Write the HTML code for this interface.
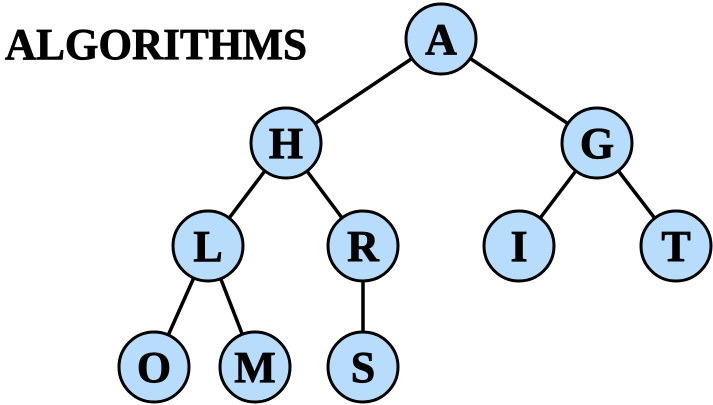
<!DOCTYPE html>
<html><head><style>html,body{margin:0;padding:0;background:#fff;}svg{display:block}</style></head>
<body>
<svg width="713" height="405" viewBox="0 0 713 405" xmlns="http://www.w3.org/2000/svg">
<text x="5" y="59" font-family="Liberation Serif, serif" font-weight="bold" font-size="44" textLength="302" lengthAdjust="spacingAndGlyphs" fill="#000" stroke="#000" stroke-width="0.8">ALGORITHMS</text>
<g stroke="#000" stroke-width="3.5">
<line x1="441" y1="39" x2="286" y2="143"/>
<line x1="441" y1="39" x2="597" y2="143"/>
<line x1="286" y1="143" x2="208" y2="246"/>
<line x1="286" y1="143" x2="363" y2="246"/>
<line x1="597" y1="143" x2="519" y2="246"/>
<line x1="597" y1="143" x2="676" y2="246"/>
<line x1="208" y1="246" x2="154" y2="367"/>
<line x1="208" y1="246" x2="255" y2="367"/>
<line x1="363" y1="246" x2="363" y2="367"/>
</g>
<g fill="#b8dcfc" stroke="#000" stroke-width="3">
<circle cx="441" cy="39" r="35"/>
<circle cx="286" cy="143" r="35"/>
<circle cx="597" cy="143" r="35"/>
<circle cx="208" cy="246" r="35"/>
<circle cx="363" cy="246" r="35"/>
<circle cx="519" cy="246" r="35"/>
<circle cx="676" cy="246" r="35"/>
<circle cx="154" cy="367" r="35"/>
<circle cx="255" cy="367" r="35"/>
<circle cx="363" cy="367" r="35"/>
</g>
<g font-family="Liberation Serif, serif" font-weight="bold" font-size="44" text-anchor="middle" fill="#000" stroke="#000" stroke-width="0.8">
<text x="441" y="54">A</text>
<text x="286" y="158">H</text>
<text x="597" y="158">G</text>
<text x="208" y="261">L</text>
<text x="363" y="261">R</text>
<text x="519" y="261">I</text>
<text x="676" y="261">T</text>
<text x="154" y="382">O</text>
<text x="255" y="382">M</text>
<text x="363" y="382">S</text>
</g>
</svg>
</body></html>
